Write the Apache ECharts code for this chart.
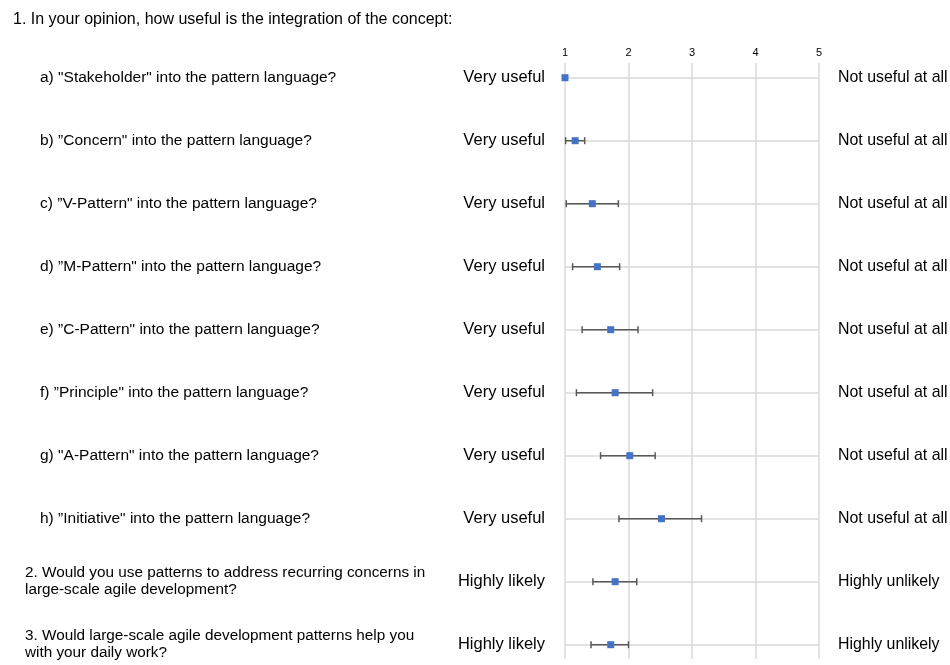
<!DOCTYPE html>
<html>
<head>
<meta charset="utf-8">
<script src="https://cdn.jsdelivr.net/npm/echarts@6/dist/echarts.min.js"></script>
<style>
html,body{margin:0;padding:0;background:#fff;}
#c{width:950px;height:665px;}
</style>
</head>
<body>
<div id="c"></div>
<script>
var title = '1. In your opinion, how useful is the integration of the concept:';
var questions = [
  'a) "Stakeholder" into the pattern language?',
  'b) \u201dConcern" into the pattern language?',
  'c) \u201dV-Pattern" into the pattern language?',
  'd) \u201dM-Pattern" into the pattern language?',
  'e) \u201dC-Pattern" into the pattern language?',
  'f) \u201dPrinciple" into the pattern language?',
  'g) "A-Pattern" into the pattern language?',
  'h) \u201dInitiative" into the pattern language?',
  '2. Would you use patterns to address recurring concerns in\nlarge-scale agile development?',
  '3. Would large-scale agile development patterns help you\nwith your daily work?'
];
var lowLabels = ['Very useful','Very useful','Very useful','Very useful','Very useful','Very useful','Very useful','Very useful','Highly likely','Highly likely'];
var highLabels = ['Not useful at all','Not useful at all','Not useful at all','Not useful at all','Not useful at all','Not useful at all','Not useful at all','Not useful at all','Highly unlikely','Highly unlikely'];
var means = [1.0, 1.16, 1.43, 1.51, 1.72, 1.79, 2.02, 2.52, 1.79, 1.72];
var errLow = [1.0, 1.01, 1.02, 1.12, 1.27, 1.18, 1.56, 1.85, 1.44, 1.41];
var errHigh = [1.0, 1.31, 1.84, 1.86, 2.15, 2.38, 2.42, 3.15, 2.13, 2.0];
var xTicks = [1, 2, 3, 4, 5];

var FONT = '"Liberation Sans", Arial, Helvetica, sans-serif';
var cats = questions.map(function(q, i){ return String(i); });

var chart = echarts.init(document.getElementById('c'), null, {renderer:'canvas'});
var option = {
  backgroundColor: '#ffffff',
  animation: false,
  textStyle: {fontFamily: FONT},
  title: {
    text: title, left: 8, top: 7,
    textStyle: {fontFamily: FONT, fontSize: 16, fontWeight: 'normal', color: '#000'}
  },
  grid: [
    {left: 565, right: 131, top: 63, bottom: 6, containLabel: false, outerBoundsMode: 'none'},
    {left: 565, right: 131, top: 77.7, bottom: 20.3, containLabel: false, outerBoundsMode: 'none'}
  ],
  xAxis: [
    {
      gridIndex: 0, type: 'value', position: 'top',
      min: xTicks[0], max: xTicks[xTicks.length-1], interval: 1,
      axisLine: {show: false}, axisTick: {show: false},
      axisLabel: {fontFamily: FONT, fontSize: 11, color: '#000', margin: 5},
      splitLine: {show: true, lineStyle: {color: '#d9d9d9', width: 1.5}}
    },
    {
      gridIndex: 1, type: 'value', min: 1, max: 5, show: false,
      splitLine: {show: false}
    }
  ],
  yAxis: [
    {gridIndex: 0, type: 'value', show: false, splitLine: {show: false}},
    {
      gridIndex: 1, type: 'category', data: cats, inverse: true, boundaryGap: false,
      position: 'left',
      axisLine: {show: false}, axisTick: {show: false},
      axisLabel: {
        interval: 0, margin: 20, fontFamily: FONT, fontSize: 16.5, color: '#000',
        formatter: function(v, i){ return lowLabels[i]; }
      },
      splitLine: {show: true, lineStyle: {color: '#d9d9d9', width: 1.5}}
    },
    {
      gridIndex: 1, type: 'category', data: cats, inverse: true, boundaryGap: false,
      position: 'right',
      axisLine: {show: false}, axisTick: {show: false},
      axisLabel: {
        interval: 0, margin: 19, fontFamily: FONT, fontSize: 15.9, color: '#000',
        formatter: function(v, i){ return highLabels[i]; }
      },
      splitLine: {show: false}
    },
    {
      gridIndex: 1, type: 'category', data: cats, inverse: true, boundaryGap: false,
      position: 'left', offset: 0,
      axisLine: {show: false}, axisTick: {show: false},
      axisLabel: {
        interval: 0, margin: 540, align: 'left', fontFamily: FONT, fontSize: 15.5, color: '#000',
        lineHeight: 17,
        formatter: function(v, i){
          return i < 8 ? '{a|' + questions[i] + '}' : '{b|' + questions[i].replace('\n', '}\n{b|') + '}';
        },
        rich: {
          a: {fontFamily: FONT, fontSize: 15.5, color: '#000', padding: [0,0,0,15]},
          b: {fontFamily: FONT, fontSize: 15.3, color: '#000', lineHeight: 17}
        }
      },
      splitLine: {show: false}
    }
  ],
  series: [
    {
      type: 'custom', xAxisIndex: 1, yAxisIndex: 1, z: 3,
      data: cats.map(function(c, i){ return [errLow[i], errHigh[i], i]; }),
      renderItem: function(params, api){
        var lo = api.coord([api.value(0), api.value(2)]);
        var hi = api.coord([api.value(1), api.value(2)]);
        if (Math.abs(hi[0]-lo[0]) < 1) return null;
        var st = {stroke: '#595959', lineWidth: 1.5};
        return {type: 'group', children: [
          {type: 'line', shape: {x1: lo[0], y1: lo[1], x2: hi[0], y2: hi[1]}, style: st},
          {type: 'line', shape: {x1: lo[0], y1: lo[1]-3.5, x2: lo[0], y2: lo[1]+3.5}, style: st},
          {type: 'line', shape: {x1: hi[0], y1: hi[1]-3.5, x2: hi[0], y2: hi[1]+3.5}, style: st}
        ]};
      },
      encode: {x: [0, 1], y: 2}
    },
    {
      type: 'scatter', xAxisIndex: 1, yAxisIndex: 1, z: 4,
      symbol: 'rect', symbolSize: 7,
      itemStyle: {color: '#4472C4', opacity: 1},
      data: cats.map(function(c, i){ return [means[i], i]; })
    }
  ]
};
chart.setOption(option);
</script>
</body>
</html>
